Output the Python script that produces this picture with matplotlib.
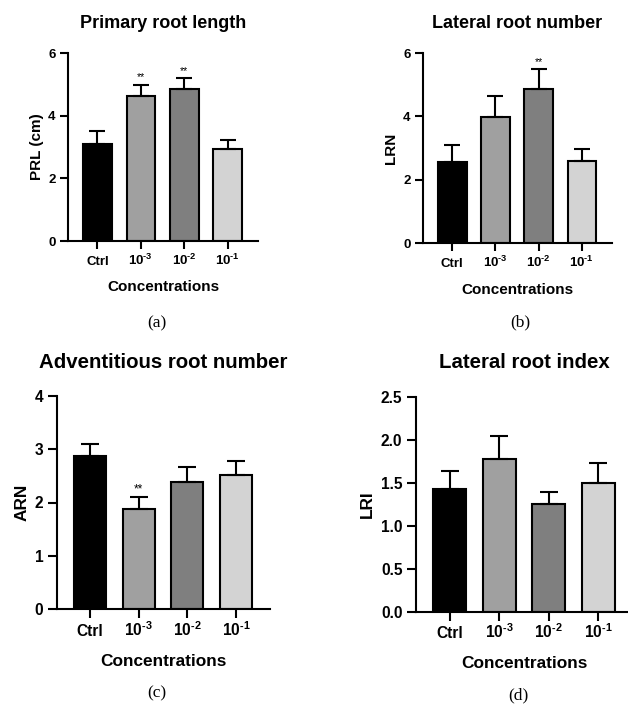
import matplotlib
matplotlib.use("Agg")
import matplotlib.pyplot as plt
import numpy as np

plt.rcParams['font.family'] = ['Liberation Sans', 'DejaVu Sans']
plt.rcParams['mathtext.fontset'] = 'custom'
plt.rcParams['mathtext.rm'] = 'Liberation Sans:bold'
plt.rcParams['mathtext.bf'] = 'Liberation Sans:bold'
plt.rcParams['mathtext.it'] = 'Liberation Sans:bold'

# ---- data ----
categories = ['Ctrl', r'$\mathbf{10^{\text{-}3}}$', r'$\mathbf{10^{\text{-}2}}$', r'$\mathbf{10^{\text{-}1}}$']
bar_colors = ['#000000', '#a0a0a0', '#7f7f7f', '#d3d3d3']

prl_mean = [3.08, 4.62, 4.85, 2.95]
prl_err = [0.43, 0.37, 0.34, 0.26]
prl_sig = ['', '**', '**', '']

lrn_mean = [2.57, 3.97, 4.87, 2.58]
lrn_err = [0.51, 0.67, 0.61, 0.39]
lrn_sig = ['', '', '**', '']

arn_mean = [2.88, 1.88, 2.38, 2.51]
arn_err = [0.21, 0.22, 0.29, 0.26]
arn_sig = ['', '**', '', '']

lri_mean = [1.43, 1.78, 1.26, 1.50]
lri_err = [0.21, 0.27, 0.14, 0.23]
lri_sig = ['', '', '', '']

W, H = 628, 713
fig = plt.figure(figsize=(W / 100, H / 100), dpi=100)


def px_axes(left, right, top, bottom):
    return fig.add_axes([left / W, 1 - bottom / H, (right - left) / W, (bottom - top) / H])


panels = [
    dict(box=(68, 258, 53, 241), mean=prl_mean, err=prl_err, sig=prl_sig,
         title='Primary root length', ylabel='PRL (cm)', ylim=(0, 6), yticks=[0, 2, 4, 6],
         yfmt='{:.0f}', letter='(a)', s=1.0, ts=9.5, xpad=11, letter_xy=(157, 323), clab_y=287, tpad=18, ylab_x=37),
    dict(box=(423, 612, 53, 243), mean=lrn_mean, err=lrn_err, sig=lrn_sig,
         title='Lateral root number', ylabel='LRN', ylim=(0, 6), yticks=[0, 2, 4, 6],
         yfmt='{:.0f}', letter='(b)', s=1.0, ts=9.5, xpad=11, letter_xy=(520, 322), clab_y=290, tpad=18, ylab_x=391),
    dict(box=(57, 270, 396, 609), mean=arn_mean, err=arn_err, sig=arn_sig,
         title='Adventitious root number', ylabel='ARN', ylim=(0, 4), yticks=[0, 1, 2, 3, 4],
         yfmt='{:.0f}', letter='(c)', s=1.13, ts=11.2, xpad=12.3, letter_xy=(157, 693), clab_y=662, tpad=20, ylab_x=22),
    dict(box=(416, 633, 397, 612), mean=lri_mean, err=lri_err, sig=lri_sig,
         title='Lateral root index', ylabel='LRI', ylim=(0, 2.5), yticks=[0, 0.5, 1.0, 1.5, 2.0, 2.5],
         yfmt='{:.1f}', letter='(d)', s=1.13, ts=11.2, xpad=12.3, letter_xy=(518, 695), clab_y=664, tpad=21, ylab_x=367),
]

x = np.arange(len(categories))
lw = 1.5
axes = []

for p in panels:
    l, r, t, b = p['box']
    s = p['s']
    ax = px_axes(l, r, t, b)
    axes.append(ax)
    mean = np.array(p['mean'])
    err = np.array(p['err'])
    ax.bar(x, mean, width=0.66, color=bar_colors, edgecolor='black', linewidth=lw,
           yerr=[np.zeros_like(err), err],
           error_kw=dict(ecolor='black', elinewidth=lw, capsize=5.5 * s, capthick=lw), zorder=2)
    for xi, m, e, sg in zip(x, mean, err, p['sig']):
        if sg:
            ax.annotate(sg, xy=(xi, m + e), xytext=(0, 1.5), textcoords='offset points',
                        ha='center', va='bottom', fontsize=7.5 * s, fontweight='normal')
    ax.set_xlim(-0.68, 3.7)
    ax.set_ylim(*p['ylim'])
    ax.set_yticks(p['yticks'])
    ax.set_yticklabels([p['yfmt'].format(v) for v in p['yticks']])
    ax.set_xticks(x)
    ax.set_xticklabels(categories)
    for sp in ['top', 'right']:
        ax.spines[sp].set_visible(False)
    for sp in ['left', 'bottom']:
        ax.spines[sp].set_linewidth(lw)
    ax.tick_params(axis='both', width=lw, length=6 * s, labelsize=p['ts'])
    ax.tick_params(axis='y', pad=3)
    ax.tick_params(axis='x', pad=p['xpad'])
    for lab in ax.get_xticklabels() + ax.get_yticklabels():
        lab.set_fontweight('bold')
    for lab in ax.get_xticklabels():
        lab.set_verticalalignment('baseline')
    ax.set_title(p['title'], fontsize=13 * s, fontweight='bold', pad=p['tpad'])
    fig.text(p['ylab_x'] / W, 1 - ((t + b) / 2) / H, p['ylabel'], rotation=90,
             ha='center', va='center', fontsize=11 * s, fontweight='bold')
    fig.text(((l + r) / 2 if p['letter'] != '(d)' else 524) / W, 1 - p['clab_y'] / H, 'Concentrations',
             ha='center', va='center', fontsize=11 * s, fontweight='bold')
    lx, ly = p['letter_xy']
    fig.text(lx / W, 1 - ly / H, p['letter'], ha='center', va='center',
             fontsize=12.5, family='Liberation Serif')

fig.savefig('out.png', dpi=100)
